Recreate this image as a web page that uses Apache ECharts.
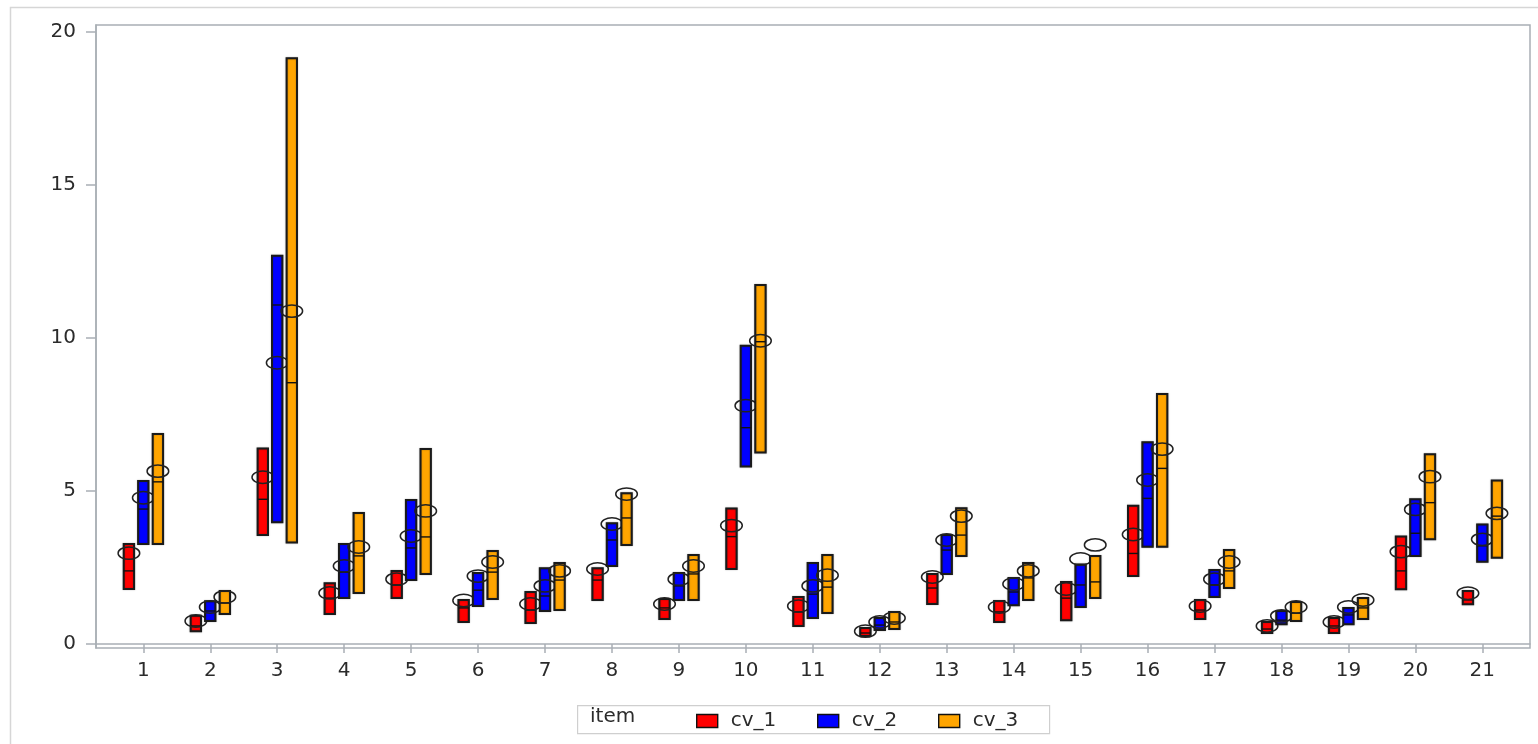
<!DOCTYPE html>
<html>
<head>
<meta charset="utf-8">
<script src="https://cdn.jsdelivr.net/npm/echarts@6/dist/echarts.min.js"></script>
<style>
html,body{margin:0;padding:0;background:#fff;}
#chart{width:1538px;height:744px;}
</style>
</head>
<body>
<div id="chart"></div>
<script>
const categories = [1,2,3,4,5,6,7,8,9,10,11,12,13,14,15,16,17,18,19,20,21];
const yTicks = [0,5,10,15,20];
const seriesNames = ['cv_1','cv_2','cv_3'];

const cv1Low    = [1.80,0.42,3.56,0.98,1.50,0.72,0.69,1.44,0.82,2.45,0.59,0.26,1.31,0.72,0.78,2.22,0.82,0.36,0.36,1.79,1.30];
const cv1High   = [3.27,0.92,6.39,1.99,2.39,1.44,1.70,2.48,1.47,4.43,1.54,0.52,2.29,1.41,2.03,4.52,1.44,0.72,0.85,3.51,1.73];
const cv1Median = [2.39,0.59,4.73,1.50,1.93,1.18,1.11,2.09,1.18,3.51,1.05,0.36,1.83,1.05,1.50,2.96,1.11,0.49,0.59,2.39,1.44];
const cv1Mean   = [2.97,0.75,5.45,1.67,2.12,1.42,1.31,2.45,1.31,3.87,1.24,0.42,2.19,1.21,1.80,3.58,1.24,0.59,0.72,3.02,1.66];

const cv2Low    = [3.27,0.75,3.98,1.50,2.09,1.24,1.08,2.55,1.44,5.80,0.85,0.46,2.29,1.27,1.21,3.18,1.54,0.65,0.65,2.88,2.69];
const cv2High   = [5.33,1.40,12.69,3.27,4.71,2.32,2.48,3.95,2.32,9.75,2.65,0.85,3.56,2.16,2.60,6.59,2.42,1.08,1.18,4.73,3.91];
const cv2Median = [4.41,1.08,11.08,2.35,3.14,1.76,1.57,3.40,1.90,7.07,1.63,0.62,3.07,1.70,1.93,4.76,1.93,0.78,0.95,3.62,3.21];
const cv2Mean   = [4.78,1.21,9.19,2.55,3.53,2.22,1.90,3.92,2.12,7.79,1.90,0.72,3.40,1.96,2.78,5.36,2.12,0.92,1.21,4.40,3.42];

const cv3Low    = [3.27,0.98,3.32,1.67,2.29,1.47,1.11,3.24,1.44,6.26,1.01,0.49,2.88,1.44,1.50,3.18,1.83,0.75,0.82,3.42,2.82];
const cv3High   = [6.86,1.73,19.14,4.28,6.37,3.04,2.65,4.93,2.91,11.73,2.91,1.05,4.44,2.65,2.88,8.17,3.07,1.37,1.50,6.20,5.34];
const cv3Median = [5.30,1.34,8.54,2.88,3.50,2.35,2.09,4.12,2.29,9.88,1.86,0.72,3.56,2.16,2.03,5.74,2.39,1.01,1.18,4.62,4.18];
const cv3Mean   = [5.65,1.54,10.88,3.17,4.35,2.68,2.39,4.90,2.55,9.91,2.25,0.85,4.18,2.39,3.24,6.37,2.68,1.21,1.44,5.47,4.27];

const colors = ['#ff0000','#0000ff','#ffa500'];
const offsets = [-0.215, 0, 0.218];

function rows(low, high, med, mean){
  return categories.map((c,i)=>[c, low[i], high[i], med[i], mean[i]]);
}
const seriesData = [
  rows(cv1Low, cv1High, cv1Median, cv1Mean),
  rows(cv2Low, cv2High, cv2Median, cv2Mean),
  rows(cv3Low, cv3High, cv3Median, cv3Mean)
];

function makeRender(k){
  return function(params, api){
    const x = api.value(0);
    const unit = api.size([1,0])[0];
    const off = unit*offsets[k];
    const w = unit*0.155;
    const top = api.coord([x, api.value(2)]);
    const bot = api.coord([x, api.value(1)]);
    const med = api.coord([x, api.value(3)]);
    const mn  = api.coord([x, api.value(4)]);
    const cx = top[0] + off;
    return {type:'group', children:[
      {type:'rect', shape:{x:cx-w/2, y:top[1], width:w, height:bot[1]-top[1]},
       style:{fill:colors[k], stroke:'#1a1a1a', lineWidth:2, shadowBlur:1.5, shadowColor:'rgba(0,0,0,0.35)'}},
      {type:'line', shape:{x1:cx-w/2, y1:med[1], x2:cx+w/2, y2:med[1]},
       style:{stroke:'#111', lineWidth:1.4}},
      {type:'ellipse', shape:{cx:cx, cy:mn[1], rx:10.8, ry:6.2},
       style:{fill:'none', stroke:'#222', lineWidth:1.5}}
    ]};
  };
}

const font = '"DejaVu Sans", "Liberation Sans", Arial, sans-serif';
const chart = echarts.init(document.getElementById('chart'));
const legendLefts = [696, 817, 938];

chart.setOption({
  animation:false,
  backgroundColor:'#fff',
  grid:{left:96, right:8, top:25, bottom:96, show:true, borderColor:'#a9afb5', borderWidth:1.5, backgroundColor:'transparent'},
  xAxis:{
    type:'value', min:0.2935, max:21.712,
    axisLine:{show:true, lineStyle:{color:'#a9afb5', width:1.5}},
    axisTick:{show:true, length:9, customValues:categories, lineStyle:{color:'#a9afb5', width:1.5}},
    axisLabel:{customValues:categories, color:'#2b2b2b', fontSize:20, fontFamily:font, margin:13},
    splitLine:{show:false}
  },
  yAxis:{
    type:'value', min:-0.13, max:20.23,
    axisLine:{show:true, lineStyle:{color:'#a9afb5', width:1.5}},
    axisTick:{show:true, length:10, customValues:yTicks, lineStyle:{color:'#a9afb5', width:1.5}},
    axisLabel:{customValues:yTicks, color:'#2b2b2b', fontSize:20, fontFamily:font, margin:20},
    splitLine:{show:false}
  },
  legend: seriesNames.map((n,i)=>({
    data:[n], left:legendLefts[i], top:711, padding:0,
    itemWidth:21, itemHeight:13, icon:'rect', itemGap:0,
    itemStyle:{borderColor:'#111', borderWidth:1.4},
    textStyle:{color:'#2b2b2b', fontSize:20, fontFamily:font, padding:[0,0,0,8]}
  })),
  graphic:[
    {type:'rect', left:8, top:5, shape:{width:1540, height:750}, style:{fill:'none', stroke:'#d6d6d6', lineWidth:1.5}, silent:true},
    {type:'rect', left:577, top:705, shape:{width:472, height:28}, style:{fill:'#fff', stroke:'#cfcfcf', lineWidth:1.2}, z:-1},
    {type:'text', left:590, top:707, style:{text:'item', fill:'#2b2b2b', fontSize:20, fontFamily:font}}
  ],
  series: seriesNames.map((n,k)=>({
    name:n, type:'custom', renderItem:makeRender(k),
    itemStyle:{color:colors[k]},
    encode:{x:0, y:[1,2]},
    data:seriesData[k]
  }))
});
</script>
</body>
</html>
